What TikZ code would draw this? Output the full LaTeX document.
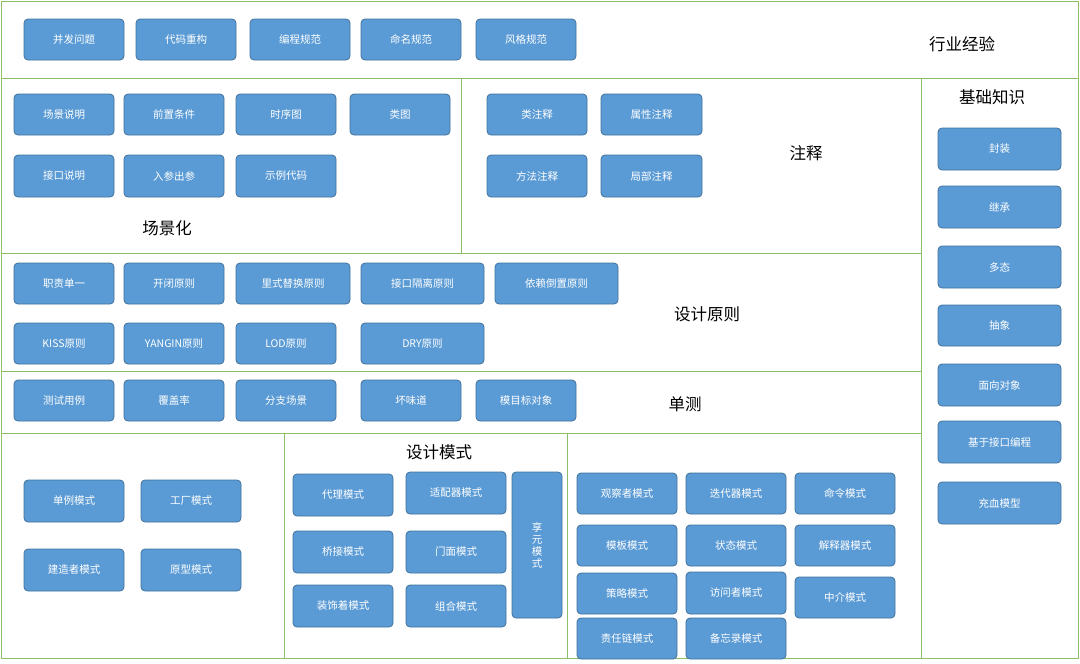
\documentclass[tikz,border=0pt]{standalone}
\usepackage{fontspec}
\setmainfont{Noto Sans CJK SC}
\begin{document}
\begin{tikzpicture}[x=1pt,y=-1pt,
  bx/.style={draw=bxb,fill=bxf,rounded corners=4pt,line width=0.8pt,text=white,font=\fontsize{10.5}{12}\selectfont,inner sep=0pt,align=center},
  sec/.style={draw=secg,line width=0.8pt},
  lab/.style={font=\fontsize{16.5}{18}\selectfont,text=black}]
\definecolor{bxf}{HTML}{5B9BD5}
\definecolor{bxb}{HTML}{41719C}
\definecolor{secg}{HTML}{8CC068}
\useasboundingbox (0,0) rectangle (1080,664);
\newcommand{\bx}[6]{\node[bx,minimum width={(#4-#2)*1pt},minimum height={(#5-#3)*1pt}] (#1) at ({(#2+#4)/2},{(#3+#5)/2}) {#6};}
% sections
\draw[sec] (1,1) rectangle (1078,658);
\draw[sec] (1,78) -- (1078,78);
\draw[sec] (921,78) -- (921,658);
\draw[sec] (461,78) -- (461,253);
\draw[sec] (1,253) -- (921,253);
\draw[sec] (1,371) -- (921,371);
\draw[sec] (1,433) -- (921,433);
\draw[sec] (284,433) -- (284,658);
\draw[sec] (567,433) -- (567,658);
% labels
\node[lab] (l1) at (962,44) {行业经验};
\node[lab] (l2) at (167,228) {场景化};
\node[lab] (l3) at (806,153) {注释};
\node[lab] (l4) at (992,97) {基础知识};
\node[lab] (l5) at (707,314) {设计原则};
\node[lab] (l6) at (685,404) {单测};
\node[lab] (l7) at (439,452) {设计模式};
% row 1
\bx{a1}{24}{19}{124}{60}{并发问题}
\bx{a2}{136}{19}{236}{60}{代码重构}
\bx{a3}{250}{19}{350}{60}{编程规范}
\bx{a4}{361}{19}{461}{60}{命名规范}
\bx{a5}{476}{19}{576}{60}{风格规范}
% scenario
\bx{b1}{14}{94}{114}{135}{场景说明}
\bx{b2}{124}{94}{224}{135}{前置条件}
\bx{b3}{236}{94}{336}{135}{时序图}
\bx{b4}{350}{94}{450}{135}{类图}
\bx{b5}{14}{155}{114}{197}{接口说明}
\bx{b6}{124}{155}{224}{197}{入参出参}
\bx{b7}{236}{155}{336}{197}{示例代码}
% comments
\bx{c1}{487}{94}{587}{135}{类注释}
\bx{c2}{601}{94}{702}{135}{属性注释}
\bx{c3}{487}{155}{587}{197}{方法注释}
\bx{c4}{601}{155}{702}{197}{局部注释}
% basics
\bx{d1}{938}{128}{1061}{170}{封装}
\bx{d2}{938}{186}{1061}{228}{继承}
\bx{d3}{938}{246}{1061}{288}{多态}
\bx{d4}{938}{305}{1061}{346}{抽象}
\bx{d5}{938}{364}{1061}{406}{面向对象}
\bx{d6}{938}{421}{1061}{463}{基于接口编程}
\bx{d7}{938}{482}{1061}{524}{充血模型}
% principles
\bx{e1}{14}{263}{114}{304}{职责单一}
\bx{e2}{124}{263}{224}{304}{开闭原则}
\bx{e3}{236}{263}{350}{304}{里式替换原则}
\bx{e4}{361}{263}{484}{304}{接口隔离原则}
\bx{e5}{495}{263}{618}{304}{依赖倒置原则}
\bx{e6}{14}{323}{114}{364}{KISS原则}
\bx{e7}{124}{323}{224}{364}{YANGIN原则}
\bx{e8}{236}{323}{336}{364}{LOD原则}
\bx{e9}{361}{323}{484}{364}{DRY原则}
% unit test
\bx{f1}{14}{380}{114}{421}{测试用例}
\bx{f2}{124}{380}{224}{421}{覆盖率}
\bx{f3}{236}{380}{336}{421}{分支场景}
\bx{f4}{361}{380}{461}{421}{坏味道}
\bx{f5}{476}{380}{576}{421}{模目标对象}
% patterns left
\bx{g1}{24}{480}{124}{522}{单例模式}
\bx{g2}{141}{480}{241}{522}{工厂模式}
\bx{g3}{24}{549}{124}{591}{建造者模式}
\bx{g4}{141}{549}{241}{591}{原型模式}
% middle
\bx{h1}{293}{474}{393}{516}{代理模式}
\bx{h2}{406}{472}{506}{514}{适配器模式}
\bx{h3}{293}{531}{393}{573}{桥接模式}
\bx{h4}{406}{531}{506}{573}{门面模式}
\bx{h5}{293}{585}{393}{627}{装饰着模式}
\bx{h6}{406}{585}{506}{627}{组合模式}
\bx{h7}{512}{472}{562}{618}{享\\元\\模\\式}
% right
\bx{i1}{577}{473}{677}{514}{观察者模式}
\bx{i2}{686}{473}{786}{514}{迭代器模式}
\bx{i3}{795}{473}{895}{514}{命令模式}
\bx{i4}{577}{525}{677}{566}{模板模式}
\bx{i5}{686}{525}{786}{566}{状态模式}
\bx{i6}{795}{525}{895}{566}{解释器模式}
\bx{i7}{577}{573}{677}{614}{策略模式}
\bx{i8}{686}{572}{786}{614}{访问者模式}
\bx{i9}{795}{577}{895}{618}{中介模式}
\bx{i10}{577}{618}{677}{659}{责任链模式}
\bx{i11}{686}{618}{786}{659}{备忘录模式}
\end{tikzpicture}
\end{document}
